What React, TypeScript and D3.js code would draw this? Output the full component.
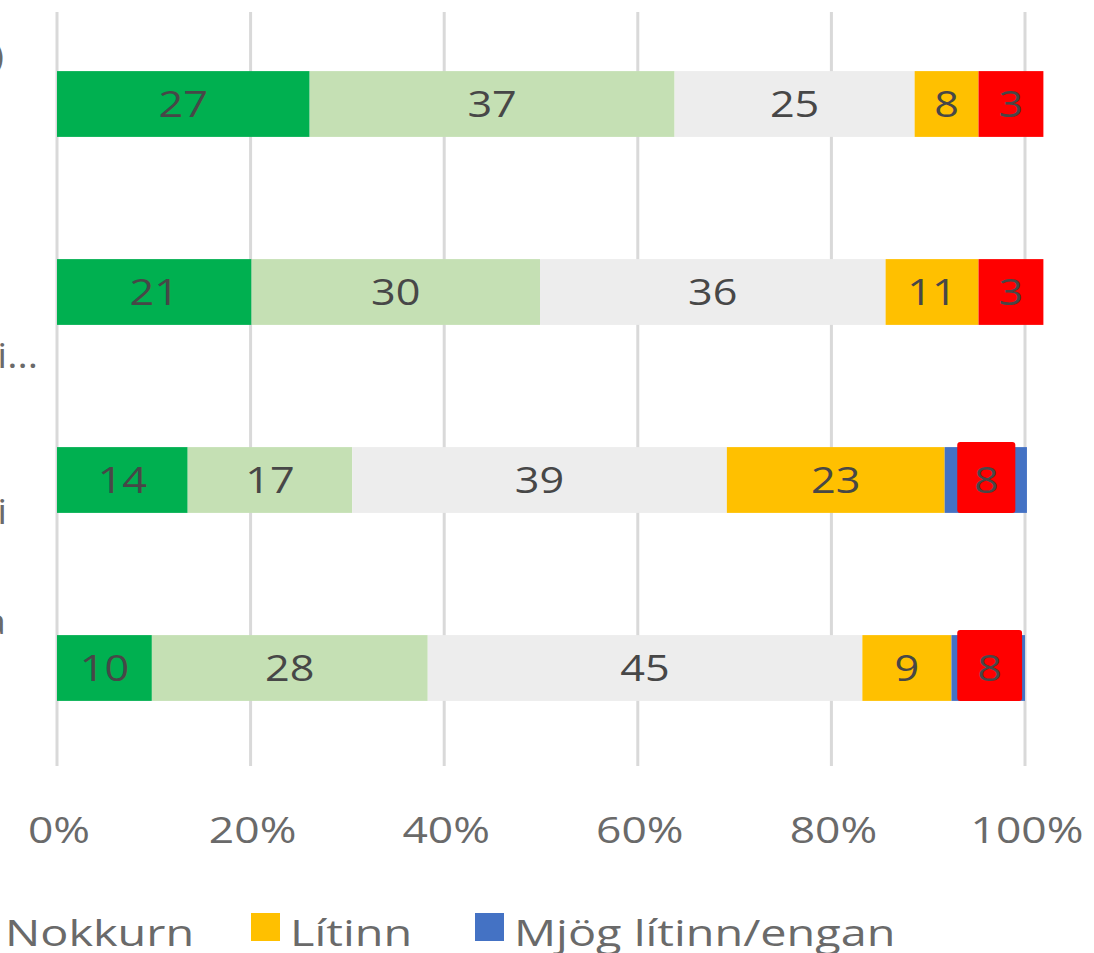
import React, { useEffect, useRef } from 'react';
import * as d3 from 'd3';

// rows (only the tail ends of the category labels survive the crop)
const categories = ['r1', 'r2', 'r3', 'r4'];
const categoryTails = [')', 'i...', 'i', 'a'];

// segment widths in % as drawn
const darkGreen = [26.1, 20.1, 13.5, 9.8];
const lightGreen = [37.7, 29.8, 17.0, 28.5];
const grey = [24.8, 35.7, 38.7, 44.9];
const yellow = [6.6, 9.6, 22.5, 9.2];
const red = [6.7, 6.7, 0, 0];
const blue = [0, 0, 8.5, 7.6];

// red boxes pasted over the blue end of rows 3 and 4
const redBoxStart = [0, 0, 93.0, 93.0];
const redBoxEnd = [0, 0, 99.0, 99.7];

// printed numbers
const darkGreenLabels = [27, 21, 14, 10];
const lightGreenLabels = [37, 30, 17, 28];
const greyLabels = [25, 36, 39, 45];
const yellowLabels = [8, 11, 23, 9];
const redLabels = [3, 3, 8, 8];

const xTicks = [0, 20, 40, 60, 80, 100];

const legendItems = [
  { label: 'Nokkurn', color: '#EDEDED' },
  { label: 'Lítinn', color: '#FFC000' },
  { label: 'Mjög lítinn/engan', color: '#4472C4' },
];

const keys = ['dark', 'light', 'grey', 'yellow', 'red', 'blue'];
const colors: Record<string, string> = {
  dark: '#00B050',
  light: '#C5E0B4',
  grey: '#EDEDED',
  yellow: '#FFC000',
  red: '#FF0000',
  blue: '#4472C4',
};

const FONT = '"Open Sans", "Noto Sans", sans-serif';

export default function App() {
  const svgRef = useRef<SVGSVGElement>(null);

  useEffect(() => {
    if (!svgRef.current) return;
    const svg = d3.select(svgRef.current);
    svg.selectAll('*').remove();

    const table = categories.map((c, i) => ({
      cat: c,
      dark: darkGreen[i],
      light: lightGreen[i],
      grey: grey[i],
      yellow: yellow[i],
      red: red[i],
      blue: blue[i],
    }));
    const labels: Record<string, number[]> = {
      dark: darkGreenLabels,
      light: lightGreenLabels,
      grey: greyLabels,
      yellow: yellowLabels,
      red: redLabels,
    };

    const x = d3.scaleLinear().domain([0, 100]).range([57, 1025]);
    const y = d3.scaleBand()
      .domain(categories)
      .range([10, 762])
      .paddingInner(0.65)
      .paddingOuter(0.325);

    // horizontally stretched text, the source picture is widened
    const addText = (
      g: d3.Selection<SVGGElement, unknown, null, undefined>,
      tx: number, ty: number, str: string, size: number, anchor: string, fill: string, stretch = 1.15
    ) => g.append('text')
      .attr('transform', `translate(${tx},${ty}) scale(${stretch},1)`)
      .attr('text-anchor', anchor)
      .attr('dy', '0.35em')
      .attr('fill', fill)
      .style('font-family', FONT)
      .style('font-size', `${size}px`)
      .text(str);

    // gridlines
    const grid = svg.append('g');
    grid.selectAll('line')
      .data(xTicks)
      .enter()
      .append('line')
      .attr('x1', d => x(d))
      .attr('x2', d => x(d))
      .attr('y1', 12)
      .attr('y2', 766)
      .attr('stroke', '#D9D9D9')
      .attr('stroke-width', 3);

    // x tick labels
    const axis = svg.append('g');
    xTicks.forEach(t => addText(axis, x(t) + 2, 830, `${t}%`, 37, 'middle', '#6A6A6A', 1.2));

    // category labels, cut by the left edge
    const cats = svg.append('g');
    const tailY = [56, 356, 512, 622];
    const tailX = [4, 38, 7, 6];
    categoryTails.forEach((s, i) => addText(cats, tailX[i], tailY[i], s, 34, 'end', '#6A6A6A'));

    // stacked bars
    const series = d3.stack<any>().keys(keys)(table);
    const bars = svg.append('g');
    series.forEach(s => {
      bars.selectAll(`.seg-${s.key}`)
        .data(s)
        .enter()
        .append('rect')
        .attr('x', d => x(d[0]))
        .attr('y', d => y(d.data.cat) || 0)
        .attr('width', d => Math.max(0, x(d[1]) - x(d[0])))
        .attr('height', y.bandwidth())
        .attr('fill', colors[s.key]);
    });

    // red overlay boxes
    const boxes = categories
      .map((c, i) => ({ cat: c, i, s: redBoxStart[i], e: redBoxEnd[i] }))
      .filter(d => d.e > d.s);
    bars.selectAll('.redbox')
      .data(boxes)
      .enter()
      .append('rect')
      .attr('x', d => x(d.s))
      .attr('y', d => (y(d.cat) || 0) - 5)
      .attr('width', d => x(d.e) - x(d.s))
      .attr('height', y.bandwidth() + 5)
      .attr('rx', 3)
      .attr('fill', '#FF0000');

    // value labels
    const vals = svg.append('g');
    series.forEach(s => {
      if (!labels[s.key]) return;
      s.forEach((d, i) => {
        let cx = x((d[0] + d[1]) / 2);
        if (s.key === 'red' && d[1] - d[0] === 0) {
          cx = x((redBoxStart[i] + redBoxEnd[i]) / 2);
        }
        const cy = (y(d.data.cat) || 0) + y.bandwidth() / 2;
        addText(vals, cx, cy, String(labels[s.key][i]), 36, 'middle', '#474747', 1.2);
      });
    });

    // legend (first swatch sits beyond the crop)
    const legend = svg.append('g');
    const legendX = [-34, 251, 475];
    legendItems.forEach((it, i) => {
      legend.append('rect')
        .attr('x', legendX[i])
        .attr('y', 913)
        .attr('width', 29)
        .attr('height', 28)
        .attr('fill', it.color);
      addText(legend, legendX[i] + 39, 933, it.label, 36, 'start', '#6A6A6A', 1.3);
    });
  }, []);

  return (
    <div style={{ position: 'absolute', left: 0, top: 0, width: 1094, height: 953, background: '#fff' }}>
      <svg ref={svgRef} width={1094} height={953} style={{ display: 'block' }} />
    </div>
  );
}
